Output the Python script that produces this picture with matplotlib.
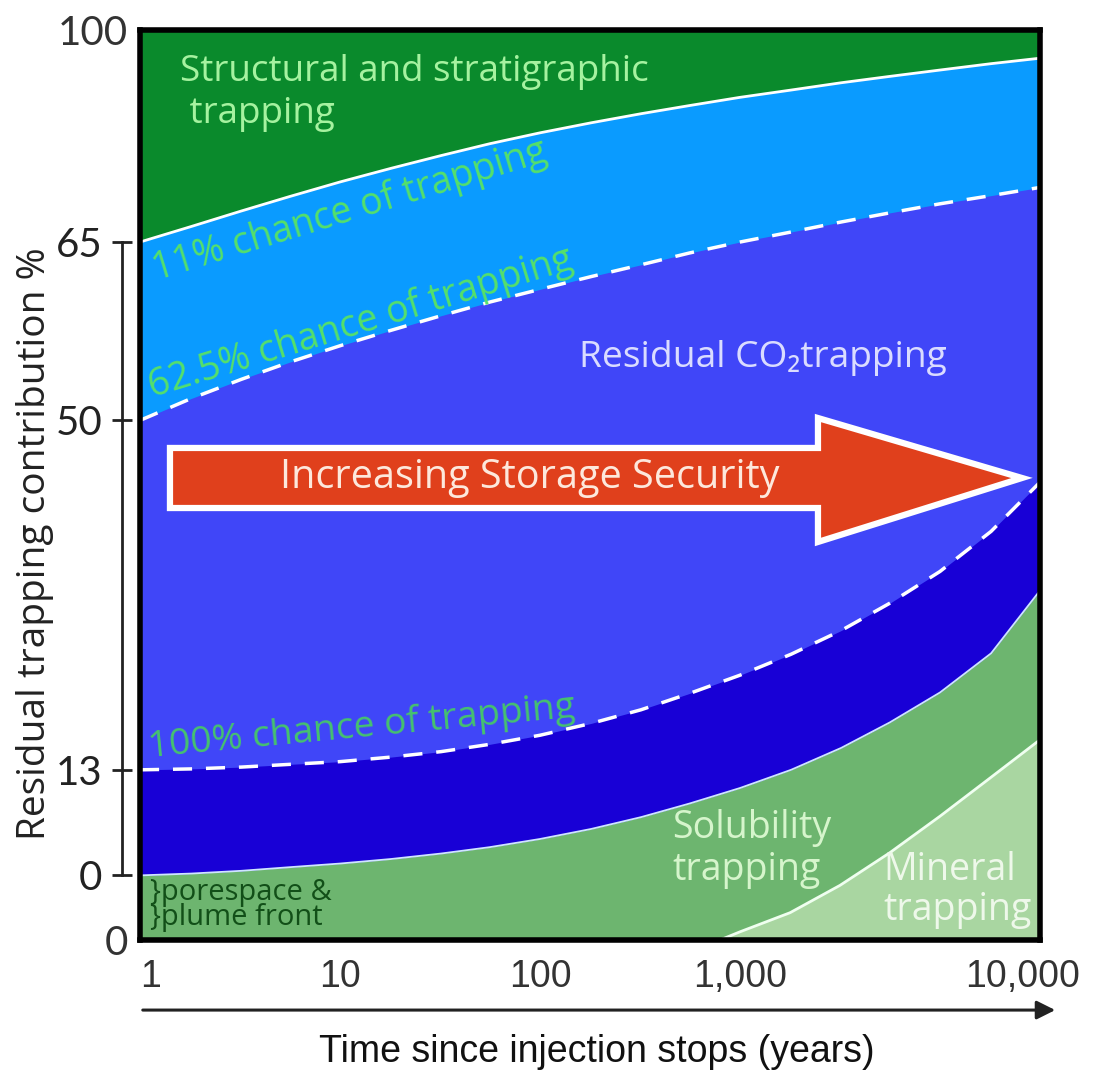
import matplotlib
matplotlib.use("Agg")
import matplotlib.pyplot as plt
from matplotlib.patches import Polygon
from matplotlib.ticker import NullLocator
from matplotlib.transforms import ScaledTranslation

# time since injection stops (years), log axis
years = [1, 1.8, 3.2, 5.6, 10, 18, 32, 56, 100, 180, 320, 560,
         1000, 1800, 3200, 5600, 10000, 18000, 31600]

# boundaries between trapping regions (vertical position in diagram %, schematic)
structural_low = [76.7, 78.4, 80.1, 81.7, 83.3, 84.8, 86.2, 87.5, 88.7, 89.8, 90.8, 91.7,
                  92.6, 93.4, 94.2, 94.9, 95.6, 96.3, 96.9]          # 11% chance line
chance_625 = [57.1, 59.5, 61.6, 63.5, 65.3, 67.0, 68.6, 70.1, 71.5, 72.9, 74.2, 75.5,
              76.7, 77.8, 78.9, 79.9, 80.9, 81.8, 82.7]
chance_100 = [18.7, 18.8, 19.0, 19.3, 19.6, 20.1, 20.7, 21.5, 22.5, 23.8, 25.3, 27.1,
              29.1, 31.4, 34.0, 37.0, 40.5, 44.9, 50.3]
solubility_top = [7.1, 7.3, 7.6, 8.0, 8.4, 8.9, 9.5, 10.2, 11.1, 12.2, 13.5, 15.0,
                  16.7, 18.7, 21.1, 23.9, 27.2, 31.5, 38.4]

mineral_years = [794, 1000, 1780, 3160, 5620, 10000, 17800, 31600]
mineral_top = [0.0, 0.9, 3.0, 6.0, 9.6, 13.6, 17.8, 22.0]

xtick_vals = [1, 10, 100, 1000, 10000]
xtick_labels = ["1", "10", "100", "1,000", "10,000"]
ytick_labels = ["0", "13", "50", "65"]

MYR = ["Open Sans", "DejaVu Sans"]
DIG = ["Lato", "DejaVu Sans"]
ARIAL = "Liberation Sans"

fig = plt.figure(figsize=(10.94, 10.74), dpi=100)
ax = fig.add_axes([140 / 1094, 1 - 940 / 1074, 900 / 1094, 910 / 1074])
ax.set_xscale("log")
ax.set_xlim(1, 10 ** 4.5)
ax.set_ylim(0, 100)

# region fills, top to bottom
ax.set_facecolor("#0a8a2c")
ax.fill_between(years, structural_low, 0, color="#0a9bff", lw=0)
ax.fill_between(years, chance_625, 0, color="#4046f8", lw=0)
ax.fill_between(years, chance_100, 0, color="#1800d6", lw=0)
ax.fill_between(years, solubility_top, 0, color="#6db56f", lw=0)
ax.fill_between(mineral_years, mineral_top, 0, color="#a9d6a1", lw=0)

ax.plot(years, structural_low, color="white", lw=2)
ax.plot(years, chance_625, color="white", lw=2.5, dashes=(5.5, 4))
ax.plot(years, chance_100, color="white", lw=2.5, dashes=(5.5, 4))
ax.plot(years, solubility_top, color="#cfe6ff", lw=1.3)
ax.plot(mineral_years, mineral_top, color="#f0fff0", lw=2)

# frame
for s in ["top", "right", "bottom"]:
    ax.spines[s].set_linewidth(4)
ax.axvline(1, color="black", lw=4, clip_on=False, zorder=5)

# bracket y axis
ax.spines["left"].set_position(("outward", 13))
ax.spines["left"].set_linewidth(2)
ax.spines["left"].set_color("#222")
tick_pos = [solubility_top[0], chance_100[0], chance_625[0], structural_low[0]]
ax.spines["left"].set_bounds(tick_pos[0], tick_pos[-1])
ax.set_yticks(tick_pos, labels=ytick_labels)
ax.set_yticks([0, 100], labels=["0", "100"], minor=True)
ax.tick_params(axis="y", which="major", direction="inout", length=14, width=2, color="#222",
               pad=7, labelsize=29, labelcolor="#222")
ax.tick_params(axis="y", which="minor", length=0, pad=-4.5, labelsize=29, labelcolor="#333")
for lab in ax.get_yticklabels() + ax.get_yticklabels(minor=True):
    lab.set_family(DIG)
ax.set_ylabel("Residual trapping contribution %", family=MYR, fontsize=28, color="#222")
ax.yaxis.set_label_coords(-0.117, 0.435)
ax.yaxis.label.set_va("center")

# x axis
ax.set_xticks(xtick_vals, labels=xtick_labels)
ax.xaxis.set_minor_locator(NullLocator())
ax.tick_params(axis="x", length=0, pad=14, labelsize=27, labelcolor="#333")
xl = ax.get_xticklabels()
for lab in xl:
    lab.set_family(ARIAL)
xl[0].set_ha("left")
xl[-1].set_ha("left")
xl[-1].set_transform(xl[-1].get_transform() + ScaledTranslation(0.25, 0, fig.dpi_scale_trans))
ax.set_xlabel("Time since injection stops (years)", family=ARIAL, fontsize=27, color="#111")
ax.xaxis.set_label_coords(0.508, -0.123)
ax.xaxis.label.set_va("center")
ax.annotate("", xy=(1.02, -0.077), xytext=(0, -0.077), xycoords="axes fraction",
            arrowprops=dict(arrowstyle="-|>", lw=2.2, color="#222", mutation_scale=28),
            annotation_clip=False)

# big red arrow
arrow = Polygon([(0.0333, 0.5407), (0.7533, 0.5407), (0.7533, 0.5736), (0.9800, 0.5077),
                 (0.7533, 0.4374), (0.7533, 0.4747), (0.0333, 0.4747)],
                closed=True, transform=ax.transAxes, fc="#e0401c", ec="white",
                lw=4.5, joinstyle="miter", zorder=6)
ax.add_patch(arrow)
ax.text(0.433, 0.5077, "Increasing Storage Security", transform=ax.transAxes,
        ha="center", va="center", family=MYR, fontsize=28.5, color="#fde8dc", zorder=7)

# region labels
ax.text(0.044, 0.931, "Structural and stratigraphic\n trapping", transform=ax.transAxes,
        ha="left", va="center", family=MYR, fontsize=26.5, color="#a6f2a0", linespacing=1.22)
ax.text(0.2333, 0.802, "11% chance of trapping", transform=ax.transAxes, rotation=17,
        ha="center", va="center", family=MYR, fontsize=27, color="#55e06a")
ax.text(0.2456, 0.678, "62.5% chance of trapping", transform=ax.transAxes, rotation=17,
        ha="center", va="center", family=MYR, fontsize=27, color="#55e06a")
ax.text(0.2467, 0.234, "100% chance of trapping", transform=ax.transAxes, rotation=5.4,
        ha="center", va="center", family=MYR, fontsize=26.8, color="#46c26e")
ax.text(0.692, 0.640, "Residual CO\u2082trapping", transform=ax.transAxes,
        ha="center", va="center", family=MYR, fontsize=26.7, color="#dadcff")
ax.text(0.591, 0.100, "Solubility\ntrapping", transform=ax.transAxes,
        ha="left", va="center", family=MYR, fontsize=27, color="#d6f5cc", linespacing=1.12)
ax.text(0.8256, 0.055, "Mineral\ntrapping", transform=ax.transAxes,
        ha="left", va="center", family=MYR, fontsize=27, color="#eef8ea", linespacing=1.08)
ax.text(0.011, 0.0385, "}porespace &\n}plume front", transform=ax.transAxes,
        ha="left", va="center", family=MYR, fontsize=21, color="#124f18", linespacing=0.86)

fig.savefig("out.png", dpi=100)
